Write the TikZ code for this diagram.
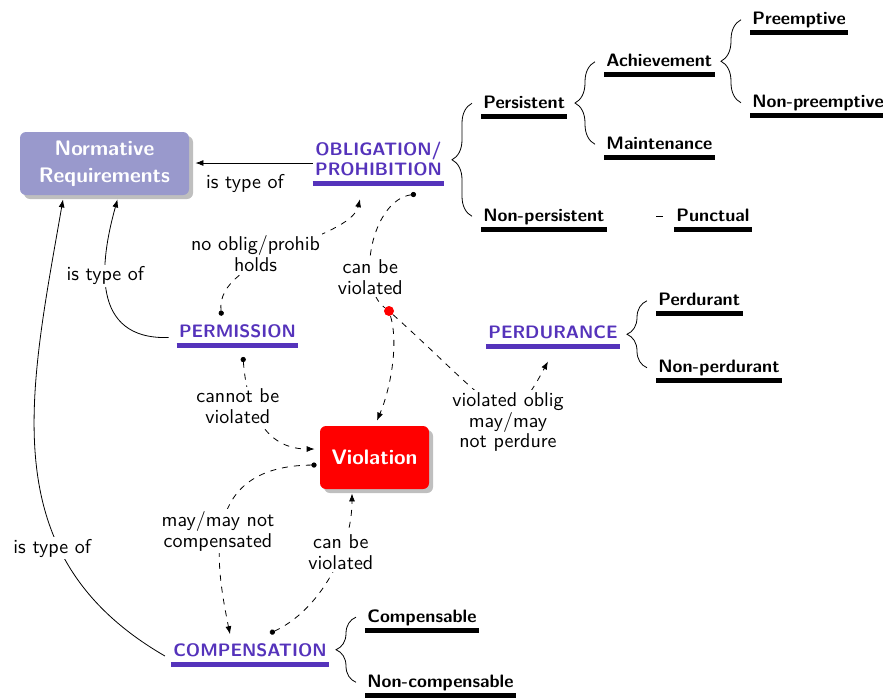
\documentclass[tikz,border=0pt]{standalone}
\usetikzlibrary{arrows.meta,shadows,decorations.pathreplacing}
\renewcommand{\familydefault}{\sfdefault}
\newcommand{\dfont}{\fontsize{10pt}{10.4pt}\selectfont}
\newcommand{\bfont}{\fontsize{9pt}{10pt}\selectfont\bfseries}
\definecolor{conc}{RGB}{85,51,187}
\definecolor{normfill}{RGB}{153,153,204}

\tikzset{
  ul/.style={font=\bfont, text depth=1.5pt, inner xsep=1pt, inner ysep=1.25pt,
    append after command={([yshift=-1.25pt]\tikzlastnode.south west) edge[line width=2.5pt, draw=#1] ([yshift=-1.25pt]\tikzlastnode.south east)}},
  leaf/.style={ul=black, anchor=base west},
  cls/.style={ul=conc, text=conc, anchor=base},
  box/.style={rounded corners=3pt, text=white, font=\fontsize{10.5pt}{13.5pt}\selectfont\bfseries,
    align=center, minimum height=31.5pt,
    drop shadow={shadow xshift=2pt, shadow yshift=-2pt, fill=black!25, opacity=1}},
  lbl/.style={fill=white, inner sep=1pt, align=center},
  rel/.style={dashed, {Circle[length=2.6pt]}-{Latex[length=4pt,width=3pt]}},
  brc/.style={decorate, decoration={brace, amplitude=10pt}},
  vdot/.style={circle, fill=red, inner sep=0pt, minimum size=5pt}
}

\begin{document}
\begin{tikzpicture}[x=0.5pt, y=0.5pt, font=\dfont, >={Latex[length=4pt,width=3pt]}]
	\useasboundingbox (0,0) rectangle (883,-698);

	%% Nodes
	\node[box, fill=normfill, minimum width=84.5pt] (norm) at (104.5,-163.5) {Normative\\Requirements};
	\node[box, fill=red, minimum width=54.5pt] (viol) at (374.5,-457.5) {Violation};

	\node[cls, anchor=center, align=center] (oblig) at (378.5,-160) {OBLIGATION/\\PROHIBITION};
	\node[cls] (perm) at (237.5,-337.5) {PERMISSION};
	\node[cls] (perd) at (553,-338) {PERDURANCE};
	\node[cls] (comp) at (250,-656) {COMPENSATION};

	\node[leaf] (pers) at (481,-108) {Persistent};
	\node[leaf] (npers) at (481,-221) {Non-persistent};
	\node[leaf] (punct) at (674,-221) {Punctual};
	\node[leaf] (achv) at (604,-66.5) {Achievement};
	\node[leaf] (maint) at (604,-149) {Maintenance};
	\node[leaf] (preem) at (750,-24.5) {Preemptive};
	\node[leaf] (npreem) at (750,-107.5) {Non-preemptive};
	\node[leaf] (perdt) at (656,-305.5) {Perdurant};
	\node[leaf] (nperdt) at (656,-372.5) {Non-perdurant};
	\node[leaf] (compb) at (365,-622) {Compensable};
	\node[leaf] (ncompb) at (365,-687) {Non-compensable};

	\node[vdot] (vd) at (389,-311) {};

	%% Braces
	\draw[brc] ([xshift=-4.5pt]npers.west) -- ([xshift=-4.5pt]pers.west);
	\draw[brc] ([xshift=-4.5pt]maint.west) -- ([xshift=-4.5pt]achv.west);
	\draw[brc] ([xshift=-4.5pt]npreem.west) -- ([xshift=-4.5pt]preem.west);
	\draw[brc] ([xshift=-4.5pt]nperdt.west) -- ([xshift=-4.5pt]perdt.west);
	\draw[brc] ([xshift=-4.5pt]ncompb.west) -- ([xshift=-4.5pt]compb.west);
	\draw ([xshift=-9pt]punct.west) -- ([xshift=-5.5pt]punct.west);

	%% Edges
	\coordinate (ot) at ([yshift=-1.5pt]oblig.west);
	\draw[->, shorten >=3pt] (ot) -- (ot -| norm.east) node[pos=0.55, below=2pt] {is type of};
	\draw[->] ([xshift=-4pt]perm.base west) .. controls (90,-340) and (100,-262) .. ([shift={(13,-4)}]norm.south) node[pos=0.6, lbl] {is type of};
	\draw[->] ([xshift=-3pt]comp.base west) .. controls (-8,-556) and (29,-395) .. ([shift={(-41.5,-4)}]norm.south) node[pos=0.3, lbl, shift={(-8,2)}] {is type of};

	\draw[rel] ([shift={(-16,6)}]perm.north) .. controls (215,-255) and (350,-240) .. ([shift={(-18.5,-18)}]oblig.south) node[pos=0.4, lbl, shift={(-9,7)}] {no oblig/prohib\\holds};
	\draw[dashed, {Circle[length=2.6pt]}-] ([shift={(37.5,-13)}]oblig.south) .. controls (372,-200) and (355,-285) .. (vd) node[pos=0.72, lbl] {can be\\violated};
	\draw[dashed, ->] (vd) .. controls (399,-345) and (390,-390) .. ([shift={(2.5,5)}]viol.north);
	\draw[dashed, ->] (vd) .. controls (501,-412) and (506,-440) .. ([shift={(-5,-17.5)}]perd.south) node[pos=0.55, lbl, shift={(7,-16)}] {violated oblig\\may/may\\not perdure};
	\draw[rel] ([shift={(5.5,-13.5)}]perm.south) .. controls (247,-410) and (265,-449) .. ([shift={(-5,8.5)}]viol.west) node[pos=0.3, lbl, shift={(-13,-6)}] {cannot be\\violated};
	\draw[rel] ([shift={(-3,-7.5)}]viol.west) .. controls (200,-466) and (215,-560) .. ([shift={(-20,6)}]comp.north) node[pos=0.5, lbl, shift={(-6,-9)}] {may/may not\\compensated};
	\draw[rel] ([shift={(20,7)}]comp.north) .. controls (320,-610) and (352,-550) .. ([shift={(-22.5,-4)}]viol.south) node[pos=0.65, lbl] {can be\\violated};
\end{tikzpicture}
\end{document}
